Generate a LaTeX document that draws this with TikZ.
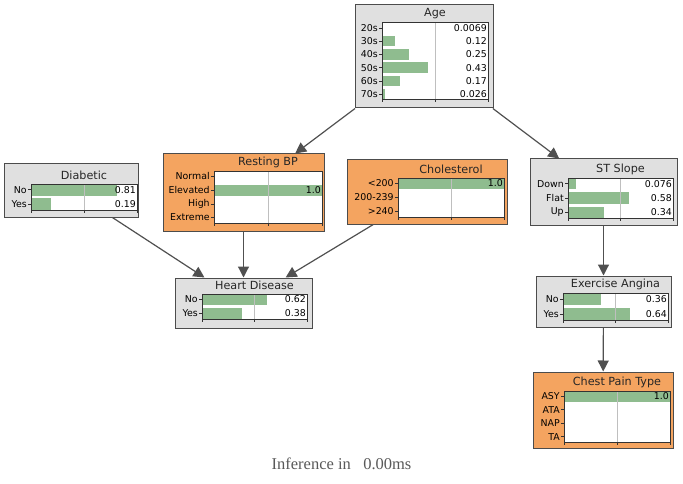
\documentclass[tikz,border=0pt]{standalone}
\usepackage{fontspec}
\usepackage{tikz}
\usetikzlibrary{arrows.meta}
\newfontfamily\dejavu{DejaVu Sans}
\newfontfamily\lserif{Liberation Serif}
\definecolor{boxgray}{HTML}{E0E0E0}
\definecolor{boxorange}{HTML}{F4A460}
\definecolor{bargreen}{HTML}{8FBC8F}
\definecolor{edgegray}{HTML}{505050}

% #1 name, #2 title, #3 left, #4 top, #5 right, #6 bottom, #7 rows, #8 label/value/text
\newcommand{\probchart}[8]{%
  \node[ttl] (#1-title) at ({(#3+#5)/2},#4-9) {#2};
  \fill[white] (#3,#4) rectangle (#5,#6);
  \pgfmathsetmacro{\pitch}{(#6-#4)/(#7-0.2)}
  \foreach \lab/\val/\txt [count=\k from 0] in {#8} {
    \pgfmathsetmacro{\yc}{#4+(\k+0.4)*\pitch}
    \fill[bar] (#3,{\yc-0.4*\pitch}) rectangle ({#3+\val*(#5-#3)},{\yc+0.4*\pitch});
    \draw[tick] (#3,\yc) -- ++(-3,0) node[rowlab] (#1-lab\k) {\lab};
    \node[vallab] (#1-val\k) at (#5,\yc) {\txt};
  }
  \draw[gridln] ({(#3+#5)/2},#4) -- ({(#3+#5)/2},#6);
  \draw[frame] (#3,#4) rectangle (#5,#6);
  \foreach \t in {0,0.5,1} {
    \draw[tick] ({#3+\t*(#5-#3)},#6) -- ++(0,3);
  }
}

\begin{document}
\begin{tikzpicture}[
  x=1pt, y=-1pt,
  gbox/.style={rectangle, draw=black!70, line width=1pt, fill=boxgray, inner sep=0pt},
  obox/.style={gbox, fill=boxorange},
  ttl/.style={font=\dejavu\fontsize{11.2}{13}\selectfont, text=black!85, inner sep=0pt},
  rowlab/.style={anchor=east, inner sep=1pt, font=\dejavu\fontsize{9.4}{11}\selectfont},
  vallab/.style={anchor=east, inner sep=1pt, font=\dejavu\fontsize{9.4}{11}\selectfont},
  bar/.style={fill=bargreen},
  tick/.style={draw=black!80, line width=0.6pt},
  gridln/.style={draw=black!25, line width=0.8pt},
  frame/.style={draw=black!80, line width=0.8pt},
  arr/.style={draw=edgegray, line width=1.2pt, -{Triangle[length=11pt,width=11pt]}}
]
  \useasboundingbox (0,0) rectangle (683,484);

  % node boxes
  \node[gbox, minimum width=138pt, minimum height=103pt] (age) at (424,56.5) {};
  \node[gbox, minimum width=134pt, minimum height=53pt] (diab) at (71,190.5) {};
  \node[obox, minimum width=161pt, minimum height=77pt] (rbp) at (243.5,192.5) {};
  \node[obox, minimum width=160pt, minimum height=64pt] (chol) at (427,192) {};
  \node[gbox, minimum width=147pt, minimum height=66pt] (st) at (603.5,192) {};
  \node[gbox, minimum width=137pt, minimum height=50pt] (hd) at (243.5,303) {};
  \node[gbox, minimum width=135pt, minimum height=51pt] (ea) at (603.5,301.5) {};
  \node[obox, minimum width=140pt, minimum height=76pt] (cpt) at (603,410) {};

  % edges
  \draw[arr] (age) -- (rbp);
  \draw[arr] (age) -- (st);
  \draw[arr] (diab) -- (hd);
  \draw[arr] (rbp) -- (hd);
  \draw[arr] (chol) -- (hd);
  \draw[arr] (st) -- (ea);
  \draw[arr] (ea) -- (cpt);

  % charts
  \probchart{age}{Age}{382}{22.7}{488}{99.3}{6}{20s/0.0069/0.0069, 30s/0.12/0.12, 40s/0.25/0.25, 50s/0.43/0.43, 60s/0.17/0.17, 70s/0.026/0.026}
  \probchart{diab}{Diabetic}{31}{184}{137}{210}{2}{No/0.81/0.81, Yes/0.19/0.19}
  \probchart{rbp}{Resting BP}{214}{171}{322}{223}{4}{Normal/0/, Elevated/1/1.0, High/0/, Extreme/0/}
  \probchart{chol}{Cholesterol}{398}{178}{504}{217}{3}{<200/1/1.0, 200-239/0/, >240/0/}
  \probchart{st}{ST Slope}{568}{178}{673}{218}{3}{Down/0.076/0.076, Flat/0.58/0.58, Up/0.34/0.34}
  \probchart{hd}{Heart Disease}{202}{294}{307}{319}{2}{No/0.62/0.62, Yes/0.38/0.38}
  \probchart{ea}{Exercise Angina}{563}{293}{668}{320}{2}{No/0.36/0.36, Yes/0.64/0.64}
  \probchart{cpt}{Chest Pain Type}{564}{391}{670}{442}{4}{ASY/1/1.0, ATA/0/, NAP/0/, TA/0/}

  \node[font=\lserif\fontsize{16.5}{19}\selectfont, text=black!65] (inftime) at (341.5,464) {Inference in \ \ 0.00ms};
\end{tikzpicture}
\end{document}
